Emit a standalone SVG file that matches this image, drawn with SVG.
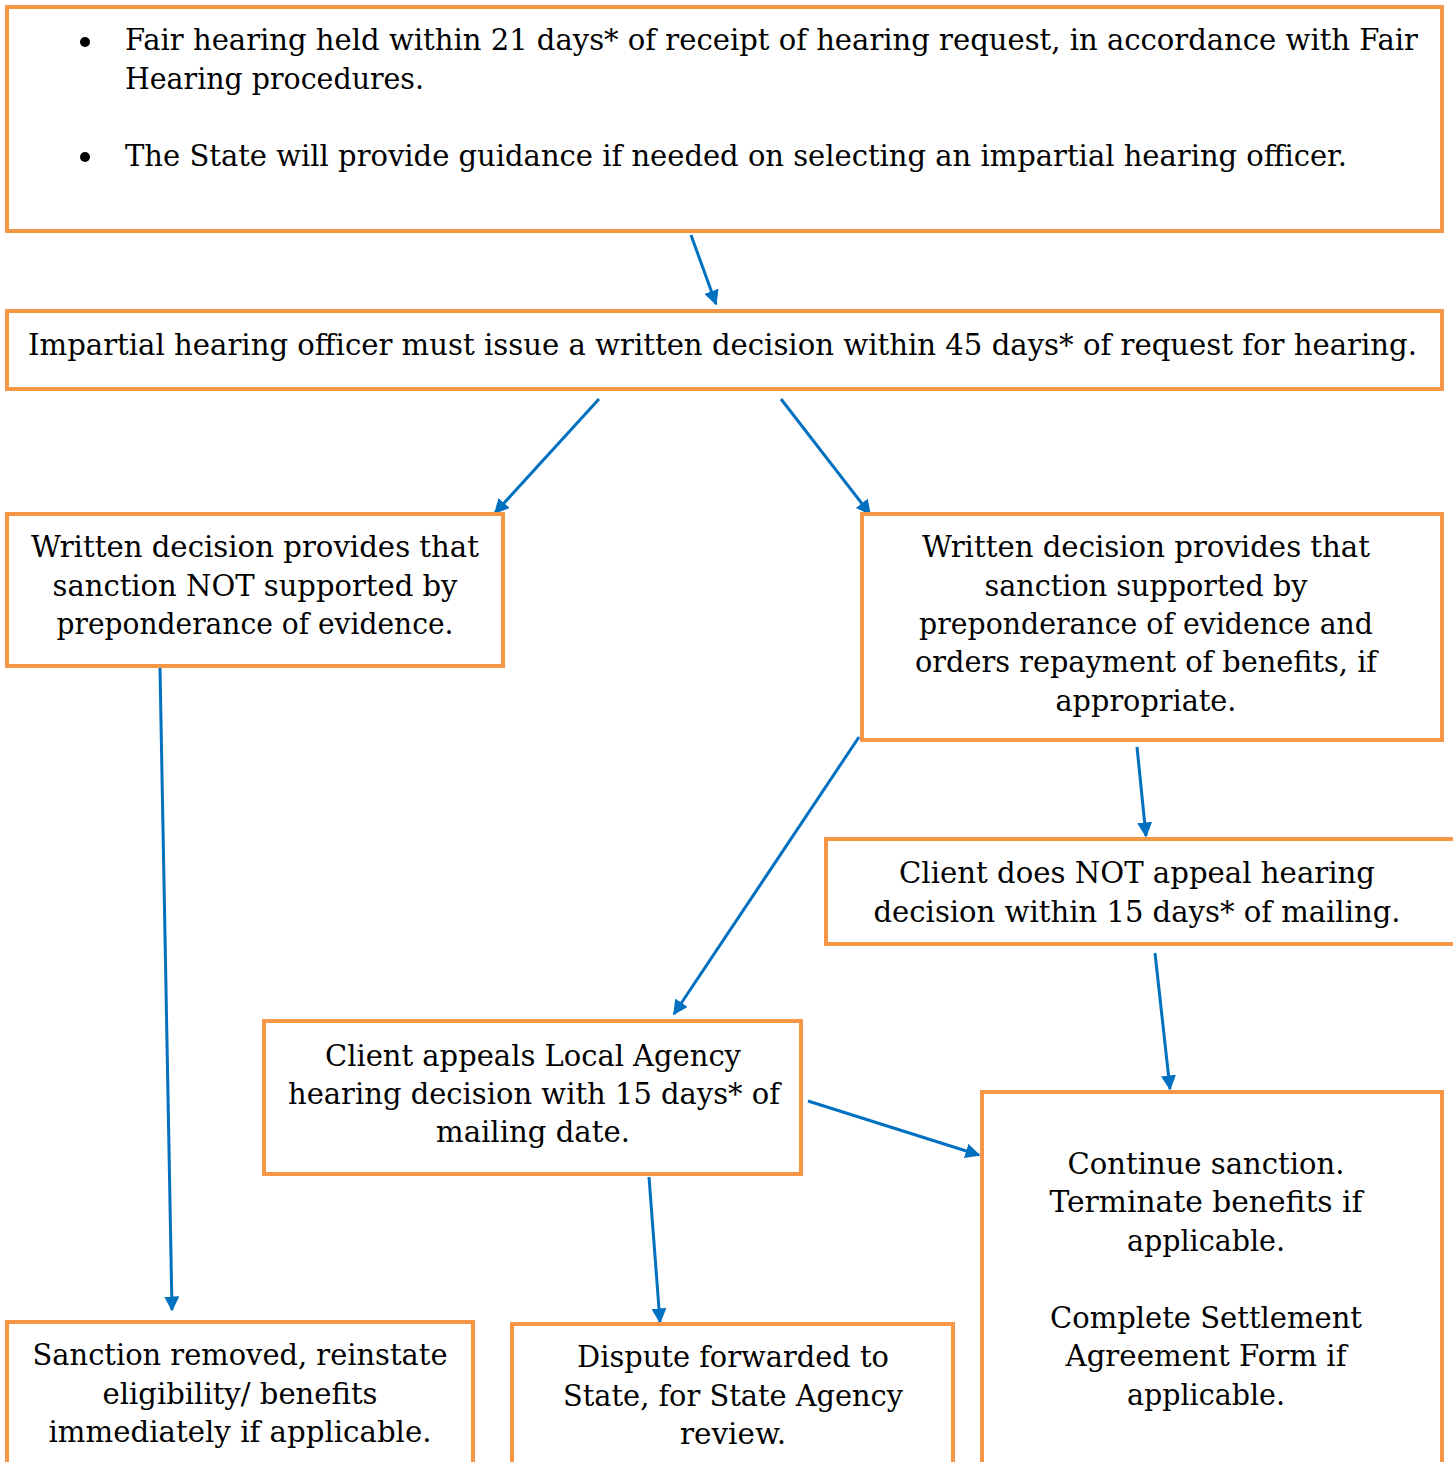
<svg xmlns="http://www.w3.org/2000/svg" width="1453" height="1462" viewBox="0 0 1453 1462">
<style>
.box{fill:#fff;stroke:#F79646;stroke-width:4}
.t{font-family:"DejaVu Serif","Liberation Serif",serif;font-size:29px;fill:#000}
.c{text-anchor:middle}
.arr{stroke:#0070C0;stroke-width:3;fill:none;marker-end:url(#ah)}
</style>
<defs>
<marker id="ah" viewBox="0 0 10 10" refX="9" refY="5" markerWidth="5" markerHeight="5" orient="auto" markerUnits="strokeWidth">
<path d="M0,0 L10,5 L0,10 Z" fill="#0070C0"/>
</marker>
</defs>
<rect width="1453" height="1462" fill="#fff"/>
<g id="connectors">
<line class="arr" x1="691" y1="235" x2="716" y2="304"/>
<line class="arr" x1="599" y1="399" x2="495" y2="513"/>
<line class="arr" x1="781" y1="399" x2="870" y2="514"/>
<line class="arr" x1="160" y1="668" x2="172" y2="1310"/>
<line class="arr" x1="1137" y1="747" x2="1146" y2="836"/>
<line class="arr" x1="859" y1="737" x2="674" y2="1014"/>
<line class="arr" x1="1155" y1="953" x2="1170" y2="1089"/>
<line class="arr" x1="808" y1="1101" x2="979" y2="1155"/>
<line class="arr" x1="649" y1="1177" x2="660" y2="1322"/>
</g>
<g id="n1">
<rect class="box" x="7" y="7" width="1435" height="224"/>
<circle cx="85" cy="42" r="5"/>
<circle cx="85" cy="157" r="5"/>
<text class="t" x="125" y="50" textLength="1293" lengthAdjust="spacingAndGlyphs">Fair hearing held within 21 days* of receipt of hearing request, in accordance with Fair</text>
<text class="t" x="125" y="89" textLength="299" lengthAdjust="spacingAndGlyphs">Hearing procedures.</text>
<text class="t" x="125" y="166" textLength="1222" lengthAdjust="spacingAndGlyphs">The State will provide guidance if needed on selecting an impartial hearing officer.</text>
</g>
<g id="n2">
<rect class="box" x="7" y="311" width="1435" height="78"/>
<text class="t" x="28" y="355" textLength="1389" lengthAdjust="spacingAndGlyphs">Impartial hearing officer must issue a written decision within 45 days* of request for hearing.</text>
</g>
<g id="n3">
<rect class="box" x="7" y="514" width="496" height="152"/>
<text class="t c" x="255" y="557" textLength="448" lengthAdjust="spacingAndGlyphs">Written decision provides that</text>
<text class="t c" x="255" y="596" textLength="405" lengthAdjust="spacingAndGlyphs">sanction NOT supported by</text>
<text class="t c" x="255" y="634" textLength="397" lengthAdjust="spacingAndGlyphs">preponderance of evidence.</text>
</g>
<g id="n4">
<rect class="box" x="862" y="514" width="580" height="226"/>
<text class="t c" x="1146" y="557" textLength="448" lengthAdjust="spacingAndGlyphs">Written decision provides that</text>
<text class="t c" x="1146" y="596" textLength="323" lengthAdjust="spacingAndGlyphs">sanction supported by</text>
<text class="t c" x="1146" y="634" textLength="454" lengthAdjust="spacingAndGlyphs">preponderance of evidence and</text>
<text class="t c" x="1146" y="672" textLength="462" lengthAdjust="spacingAndGlyphs">orders repayment of benefits, if</text>
<text class="t c" x="1146" y="711" textLength="181" lengthAdjust="spacingAndGlyphs">appropriate.</text>
</g>
<g id="n5">
<rect class="box" x="826" y="839" width="640" height="105"/>
<text class="t c" x="1137" y="883" textLength="476" lengthAdjust="spacingAndGlyphs">Client does NOT appeal hearing</text>
<text class="t c" x="1137" y="922" textLength="527" lengthAdjust="spacingAndGlyphs">decision within 15 days* of mailing.</text>
</g>
<g id="n6">
<rect class="box" x="264" y="1021" width="537" height="153"/>
<text class="t c" x="533" y="1066" textLength="416" lengthAdjust="spacingAndGlyphs">Client appeals Local Agency</text>
<text class="t c" x="534" y="1104" textLength="492" lengthAdjust="spacingAndGlyphs">hearing decision with 15 days* of</text>
<text class="t c" x="533" y="1142" textLength="194" lengthAdjust="spacingAndGlyphs">mailing date.</text>
</g>
<g id="n7">
<rect class="box" x="982" y="1092" width="460" height="400"/>
<text class="t c" x="1206" y="1174" textLength="277" lengthAdjust="spacingAndGlyphs">Continue sanction.</text>
<text class="t c" x="1206" y="1212" textLength="313" lengthAdjust="spacingAndGlyphs">Terminate benefits if</text>
<text class="t c" x="1206" y="1251" textLength="158" lengthAdjust="spacingAndGlyphs">applicable.</text>
<text class="t c" x="1206" y="1328" textLength="312" lengthAdjust="spacingAndGlyphs">Complete Settlement</text>
<text class="t c" x="1206" y="1366" textLength="281" lengthAdjust="spacingAndGlyphs">Agreement Form if</text>
<text class="t c" x="1206" y="1405" textLength="158" lengthAdjust="spacingAndGlyphs">applicable.</text>
</g>
<g id="n8">
<rect class="box" x="7" y="1322" width="466" height="170"/>
<text class="t c" x="240" y="1365" textLength="415" lengthAdjust="spacingAndGlyphs">Sanction removed, reinstate</text>
<text class="t c" x="240" y="1404" textLength="275" lengthAdjust="spacingAndGlyphs">eligibility/ benefits</text>
<text class="t c" x="240" y="1442" textLength="383" lengthAdjust="spacingAndGlyphs">immediately if applicable.</text>
</g>
<g id="n9">
<rect class="box" x="512" y="1324" width="441" height="170"/>
<text class="t c" x="733" y="1367" textLength="312" lengthAdjust="spacingAndGlyphs">Dispute forwarded to</text>
<text class="t c" x="733" y="1406" textLength="340" lengthAdjust="spacingAndGlyphs">State, for State Agency</text>
<text class="t c" x="733" y="1444" textLength="106" lengthAdjust="spacingAndGlyphs">review.</text>
</g>
</svg>
